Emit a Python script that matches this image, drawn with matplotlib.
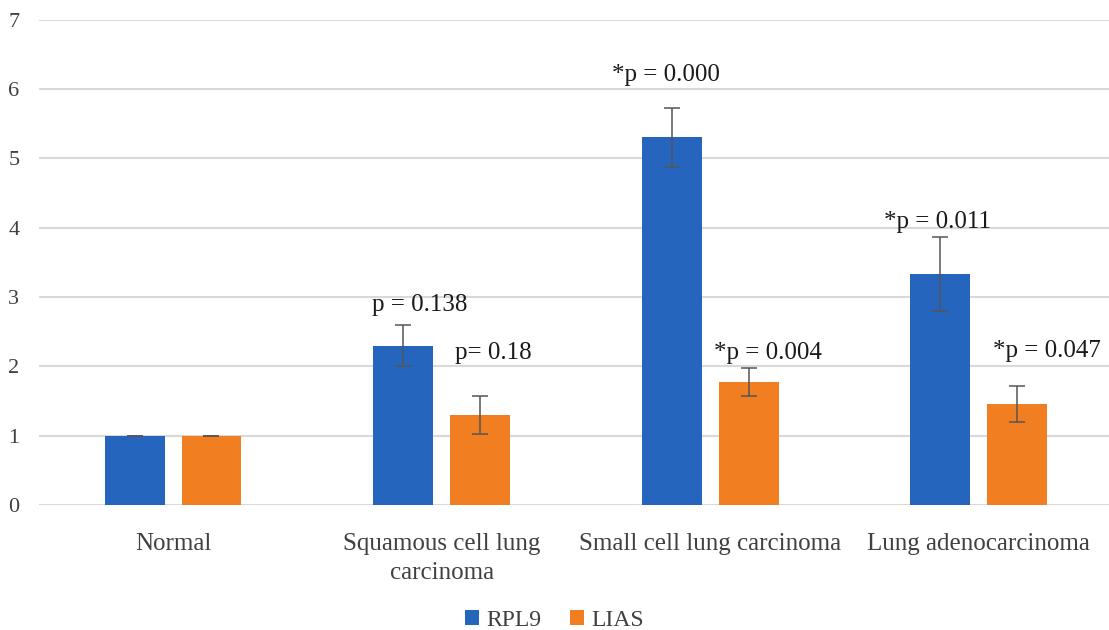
import matplotlib
matplotlib.use('Agg')
import matplotlib.pyplot as plt
import numpy as np

# Relative expression of RPL9 and LIAS in lung tissue types
categories = ['Normal', 'Squamous cell lung\ncarcinoma', 'Small cell lung carcinoma', 'Lung adenocarcinoma']
rpl9 = [1.0, 2.30, 5.30, 3.33]
rpl9_err = [0.0, 0.30, 0.43, 0.53]
lias = [1.0, 1.30, 1.78, 1.46]
lias_err = [0.0, 0.27, 0.20, 0.26]
series_names = ['RPL9', 'LIAS']
p_labels = ['p = 0.138', 'p= 0.18', '*p = 0.000', '*p = 0.004', '*p = 0.011', '*p = 0.047']
p_x = [0.919, 1.194, 1.835, 2.215, 2.848, 3.254]
p_y = [2.88, 2.20, 6.20, 2.20, 4.08, 2.23]

plt.rcParams['font.family'] = ['Liberation Serif', 'DejaVu Serif']

BLUE = '#2565BE'
ORANGE = '#F27E22'

fig = plt.figure(figsize=(11.09, 6.30), dpi=100)
ax = fig.add_axes([0.035, 0.198, 0.965, 0.771])

x = np.arange(len(categories))
w = 0.223
off = 0.143
err_kw = dict(ecolor='#555555', elinewidth=1.1, capsize=6, capthick=1.1)
ax.bar(x - off, rpl9, w, yerr=rpl9_err, color=BLUE, label=series_names[0], error_kw=err_kw, zorder=3)
ax.bar(x + off, lias, w, yerr=lias_err, color=ORANGE, label=series_names[1], error_kw=err_kw, zorder=3)

for t, px, py in zip(p_labels, p_x, p_y):
    ax.text(px, py, t, ha='center', va='center', fontsize=18, color='#1a1a1a', zorder=4)

ax.set_ylim(0, 7)
ax.set_xlim(-0.5, 3.485)
ax.set_yticks(range(0, 8))
ax.yaxis.grid(True, color='#d9d9d9', linewidth=1.5, zorder=0)
ax.set_axisbelow(True)
for s in ax.spines.values():
    s.set_visible(False)
ax.tick_params(axis='both', length=0, colors='#404040', labelsize=16)
ax.tick_params(axis='y', pad=14)
ax.set_xticks(x)
ax.set_xticklabels(categories, fontsize=18, color='#404040', linespacing=1.4)
ax.tick_params(axis='x', pad=20)

handles, labels = ax.get_legend_handles_labels()
fig.legend(handles, labels, loc='center', bbox_to_anchor=(0.5, 0.015), ncol=2, frameon=False,
           fontsize=17, handlelength=0.6, handleheight=0.6, handletextpad=0.3, columnspacing=1.2,
           labelcolor='#404040')

fig.savefig('out.png', dpi=100)
